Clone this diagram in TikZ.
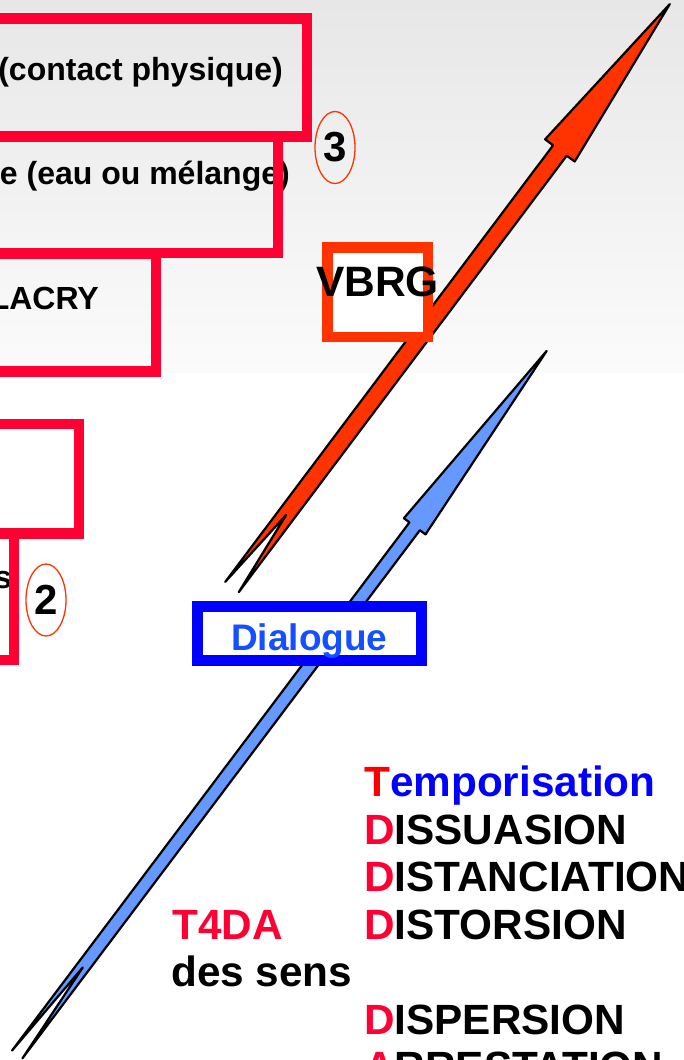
\documentclass[tikz,border=0pt]{standalone}
\usepackage{fontspec}
\setmainfont{Liberation Sans}
\usetikzlibrary{shapes.geometric}
\definecolor{boxred}{RGB}{255,0,51}
\definecolor{purered}{RGB}{255,0,0}
\definecolor{arrred}{RGB}{255,51,0}
\definecolor{arrblue}{RGB}{102,153,255}
\definecolor{dlgblue}{RGB}{0,0,255}
\definecolor{dlgtext}{RGB}{20,80,255}
\definecolor{bgtop}{RGB}{231,231,231}
\definecolor{bgbot}{RGB}{251,251,251}
\begin{document}
\begin{tikzpicture}[x=1pt,y=-1pt,
  redbox/.style={draw=boxred, line width=10.5pt},
  boxtxt/.style={font=\fontsize{32}{38}\selectfont\bfseries, inner sep=0pt, anchor=base east},
  numell/.style={ellipse, draw=arrred, line width=1.3pt, minimum width=40pt, minimum height=72pt, inner sep=0pt, font=\fontsize{42}{50}\selectfont\bfseries},
  arrowshape/.style={draw=black, line width=2.2pt, line join=round},
  bigtxt/.style={font=\fontsize{42.3}{50}\selectfont\bfseries, inner sep=0pt, anchor=base west},
  framebox/.style={line width=10.5pt, fill=white, inner sep=0pt}
]
\useasboundingbox (0,0) rectangle (684,1060);
\clip (0,0) rectangle (684,1060);
\fill[white] (0,0) rectangle (684,1060);
\shade[top color=bgtop, bottom color=bgbot] (0,0) rectangle (684,372);

% texts of the left boxes (cut by the left edge)
\node[boxtxt] (tcontact) at (283,80) {(contact physique)};
\node[boxtxt] (teau) at (290,184) {e (eau ou mélange)};
\node[boxtxt] (tlacry) at (99,309) {LACRY};
\node[boxtxt] (ts) at (12,588) {s};

% red boxes
\draw[redbox] (-30,18.5) rectangle (307,136.5);
\draw[redbox] (-30,136.5) rectangle (278,253);
\draw[redbox] (-30,253.5) rectangle (156,371.5);
\draw[redbox] (-30,424) rectangle (79,533.5);
\draw[redbox] (-30,533.5) rectangle (14,660);

% numbered ellipses
\node[numell] (n3) at (335,147.5) {3};
\node[numell] (n2) at (46,600) {2};

% orange arrow
\coordinate (oTL) at (225.2,581.9);
\coordinate (oHL) at (553.1,145.3);
\coordinate (oBL) at (545.1,139.3);
\coordinate (oTP) at (669.8,4.1);
\coordinate (oBR) at (574.7,161.5);
\coordinate (oHR) at (566.7,155.7);
\coordinate (oTR) at (238.8,592.1);
\coordinate (oN) at (286.1,515);
\draw[arrowshape, fill=arrred] (oTL) -- (oHL) -- (oBL) -- (oTP) -- (oBR) -- (oHR) -- (oTR) -- (oN) -- cycle;

% VBRG box
\node[framebox, draw=arrred, minimum width=100.5pt, minimum height=89.5pt] (vbrgbox) at (377.75,292.25) {};
\node[font=\fontsize{42.5}{50}\selectfont\bfseries, inner sep=0pt, anchor=base] (vbrg) at (377.5,296) {VBRG};

% blue arrow
\coordinate (bTL) at (12.0,1050.6);
\coordinate (bHL) at (409.5,522.4);
\coordinate (bBL) at (403.9,518.2);
\coordinate (bTP) at (546.7,350.9);
\coordinate (bBR) at (425.5,534.4);
\coordinate (bHR) at (419.9,530.2);
\coordinate (bTR) at (22.4,1058.4);
\coordinate (bN) at (82.8,967.4);
\draw[arrowshape, fill=arrblue] (bTL) -- (bHL) -- (bBL) -- (bTP) -- (bBR) -- (bHR) -- (bTR) -- (bN) -- cycle;

% Dialogue box
\node[framebox, draw=dlgblue, minimum width=224pt, minimum height=53.6pt] (dlgbox) at (309.3,633.5) {};
\node[font=\fontsize{37}{44}\selectfont\bfseries, text=dlgtext, inner sep=0pt, anchor=base] (dlg) at (309.3,650) {Dialogue};

% T4DA
\node[bigtxt, text=boxred] (t4da) at (172,939.3) {T4DA};
\node[bigtxt] (sens) at (171,986.7) {des sens};

% right column
\node[bigtxt] (l1) at (364,796.7) {\textcolor{purered}{T}\textcolor{dlgblue}{emporisation}};
\node[bigtxt] (l2) at (364,844.3) {\textcolor{boxred}{D}ISSUASION};
\node[bigtxt] (l3) at (364,891.7) {\textcolor{boxred}{D}ISTANCIATION};
\node[bigtxt] (l4) at (364,939.3) {\textcolor{boxred}{D}ISTORSION};
\node[bigtxt] (l5) at (364,1034.3) {\textcolor{boxred}{D}ISPERSION};
\node[bigtxt] (l6) at (364,1081.5) {\textcolor{boxred}{A}RRESTATION};
\end{tikzpicture}
\end{document}
